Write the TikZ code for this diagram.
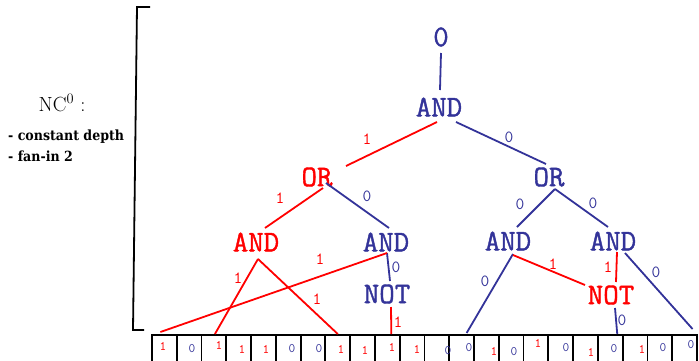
\documentclass[tikz,border=0pt]{standalone}
\usepackage{fontspec}
\newfontfamily\slabfont{DejaVu Serif Condensed}
\newfontfamily\gatefont{Latin Modern Mono}[FakeBold=1.3]
\definecolor{cblue}{RGB}{51,51,153}
\definecolor{cred}{RGB}{255,0,0}
\begin{document}
\begin{tikzpicture}[x=1pt,y=-1pt,
  gate/.style={font=\gatefont\fontsize{30}{30}\selectfont, inner sep=0pt},
  wire/.style={line width=1.8pt},
  lab/.style={font=\ttfamily\fontsize{17}{17}\selectfont, inner sep=0pt},
  bit/.style={font=\ttfamily\fontsize{13}{13}\selectfont, inner sep=0pt},
  cell/.style={draw=black, line width=1.8pt, minimum width=24.77pt, minimum height=40pt, anchor=north, inner sep=0pt},
  note/.style={font=\slabfont\bfseries\fontsize{14}{14}\selectfont, inner sep=0pt, anchor=west}]
\useasboundingbox (0,0) rectangle (699,360);
\clip (0,0) rectangle (699,360);

% bracket and description
\draw[line width=1.8pt] (150,7) -- (137,7) -- (133,330) -- (144,330);
\node[inner sep=0pt, font=\fontsize{20.5}{20.5}\selectfont] (nc) at (62,103) {NC$^0$ :};
\node[note] (l1) at (8,137) {- constant depth};
\node[note] (l2) at (8,156) {- fan-in 2};

% input cells
\foreach \i in {1,...,22} {
  \node[cell] (c\i) at ({152+(\i-0.5)*24.77},334) {};
}
\foreach \i/\v/\x/\y in {1/1/163/346.7, 2/0/192/349, 3/1/219/345.7, 4/1/242/349, 5/1/266/349,
  6/0/292/349, 7/0/319/349, 8/1/341/349, 9/1/365/350, 10/1/392/347,
  11/1/417/349, 12/0/448/351, 13/0/469/348, 14/1/494/351, 15/0/514/352, 16/1/538/343,
  17/0/566/348, 18/1/591/352, 19/0/614/349, 20/1/642/349, 21/0/663/348, 22/0/691/345} {
  \ifnum\v=1 \def\col{cred}\else\def\col{cblue}\fi
  \node[bit, text=\col] (d\i) at (\x,\y) {\v};
}

% gates
\node[gate, text=cblue] (top) at (441,37) {0};
\node[gate, text=cblue] (andT) at (439,107) {AND};
\node[gate, text=cred] (orL) at (317,177) {OR};
\node[gate, text=cblue] (orR) at (549,177) {OR};
\node[gate, text=cred] (andL) at (256,242) {AND};
\node[gate, text=cblue] (andM) at (386,242) {AND};
\node[gate, text=cblue] (notM) at (387,294) {NOT};
\node[gate, text=cblue] (andRL) at (508,241) {AND};
\node[gate, text=cblue] (andRR) at (613,241) {AND};
\node[gate, text=cred] (notR) at (611,295) {NOT};

% wires and their values
\draw[wire, cblue] ([shift={(0,16)}]top.center) -- ([shift={(1,-17)}]andT.center);
\draw[wire, cred] ([shift={(-2,15)}]andT.center) -- ([shift={(29,-11)}]orL.center);
\node[lab, text=cred] (e1) at (367,139) {1};
\draw[wire, cblue] ([shift={(17,15)}]andT.center) -- ([shift={(-3,-13)}]orR.center);
\node[lab, text=cblue] (e2) at (509,137) {0};
\draw[wire, cred] ([shift={(6,11)}]orL.center) -- ([shift={(9,-14)}]andL.center);
\node[lab, text=cred] (e3) at (280,198) {1};
\draw[wire, cblue] ([shift={(9,6)}]orL.center) -- ([shift={(3,-14)}]andM.center);
\node[lab, text=cblue] (e4) at (367,196) {0};
\draw[wire, cblue] ([shift={(1,11)}]andM.center) -- ([shift={(3,-13)}]notM.center);
\node[lab, text=cblue] (e5) at (396,267) {0};
\draw[wire, cred] ([shift={(1,11)}]andM.center) -- ([xshift=-4pt,yshift=2pt]c1.north);
\node[lab, text=cred] (e6) at (320,259) {1};
\draw[wire, cred] ([shift={(2,17)}]andL.center) -- ([xshift=1pt]c3.north);
\node[lab, text=cred] (e7) at (238,278) {1};
\draw[wire, cred] ([shift={(2,17)}]andL.center) -- (c8.north);
\node[lab, text=cred] (e8) at (317,299) {1};
\draw[wire, cred] ([shift={(4,13)}]notM.center) -- ([xshift=4pt]c10.north);
\node[lab, text=cred] (e9) at (398,322) {1};
\draw[wire, cblue] ([shift={(6,12)}]orR.center) -- ([shift={(9,-14)}]andRL.center);
\node[lab, text=cblue] (e10) at (520,204) {0};
\draw[wire, cblue] ([shift={(6,12)}]orR.center) -- ([shift={(-5,-14)}]andRR.center);
\node[lab, text=cblue] (e11) at (593,203) {0};
\draw[wire, cblue] ([shift={(5,13)}]andRL.center) -- ([xshift=5pt,yshift=1pt]c13.north);
\node[lab, text=cblue] (e12) at (485,281) {0};
\draw[wire, cred] ([shift={(5,14)}]andRL.center) -- ([shift={(-26,-10)}]notR.center);
\node[lab, text=cred] (e13) at (553,264) {1};
\draw[wire, cred] ([shift={(4,11)}]andRR.center) -- ([shift={(5,-13)}]notR.center);
\node[lab, text=cred] (e14) at (608,267) {1};
\draw[wire, cblue] ([shift={(12,12)}]andRR.center) -- ([xshift=8pt,yshift=5pt]c22.north);
\node[lab, text=cblue] (e15) at (656,272) {0};
\draw[wire, cblue] ([shift={(4,13)}]notR.center) -- ([xshift=7pt]c19.north);
\node[lab, text=cblue] (e16) at (622,320) {0};
\end{tikzpicture}
\end{document}
